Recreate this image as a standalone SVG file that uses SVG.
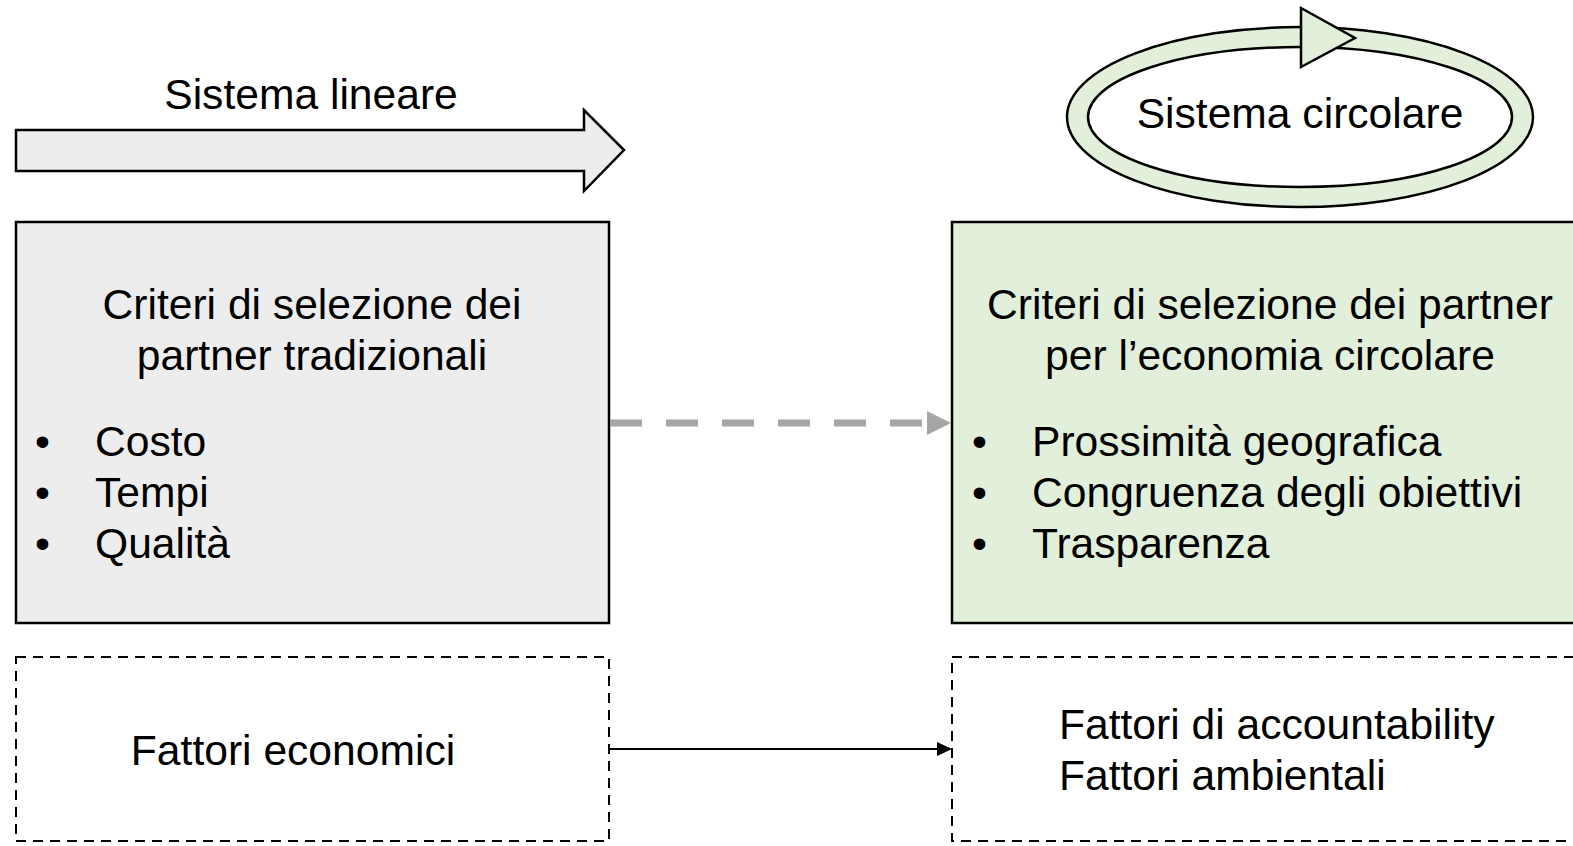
<svg xmlns="http://www.w3.org/2000/svg" width="1573" height="846" viewBox="0 0 1573 846">
<style>
text{font-family:"Liberation Sans",Arial,sans-serif;font-size:42.6px;fill:#000}
.box{stroke:#000;stroke-width:2.5}
.dash{fill:#fff;stroke:#000;stroke-width:2;stroke-dasharray:10 7}
.mid{text-anchor:middle}
</style>
<rect width="1573" height="846" fill="#fff"/>
<g id="linear">
<path d="M16,130 H584 V110 L624,150 L584,191 V171 H16 Z" fill="#ededed" stroke="#000" stroke-width="2.5"/>
<text class="mid" x="311" y="109">Sistema lineare</text>
</g>
<g id="circular">
<path fill-rule="evenodd" fill="#e2efda" stroke="#000" stroke-width="2.5" d="M1067,117 a233,90 0 1,0 466,0 a233,90 0 1,0 -466,0 Z M1088,117 a212,70 0 1,0 424,0 a212,70 0 1,0 -424,0 Z"/>
<path d="M1301,8 L1355,38 L1301,67 Z" fill="#e2efda" stroke="#000" stroke-width="2.5"/>
<text class="mid" x="1300" y="128">Sistema circolare</text>
</g>
<g id="trad">
<rect class="box" x="16" y="222" width="593" height="401" fill="#ededed"/>
<text class="mid" x="312" y="319">Criteri di selezione dei</text>
<text class="mid" x="312" y="370">partner tradizionali</text>
<text x="35" y="456">•</text><text x="95" y="456">Costo</text>
<text x="35" y="507">•</text><text x="95" y="507">Tempi</text>
<text x="35" y="558">•</text><text x="95" y="558">Qualità</text>
</g>
<g id="circ">
<rect class="box" x="952" y="222" width="640" height="401" fill="#e2efda"/>
<text class="mid" x="1270" y="319">Criteri di selezione dei partner</text>
<text class="mid" x="1270" y="370">per l’economia circolare</text>
<text x="972" y="456">•</text><text x="1032" y="456">Prossimità geografica</text>
<text x="972" y="507">•</text><text x="1032" y="507">Congruenza degli obiettivi</text>
<text x="972" y="558">•</text><text x="1032" y="558">Trasparenza</text>
</g>
<g id="econ">
<rect class="dash" x="16" y="657" width="593" height="184"/>
<text class="mid" x="293" y="765">Fattori economici</text>
</g>
<g id="acc">
<rect class="dash" x="952" y="657" width="640" height="184"/>
<text x="1059" y="739">Fattori di accountability</text>
<text x="1059" y="790">Fattori ambientali</text>
</g>
<g id="connectors">
<line x1="610" y1="423" x2="928" y2="423" stroke="#a6a6a6" stroke-width="7" stroke-dasharray="32 24"/>
<path d="M927,411 L951,423 L927,435 Z" fill="#a6a6a6"/>
<line x1="610" y1="749" x2="944" y2="749" stroke="#000" stroke-width="2"/>
<path d="M937,742 L952,749 L937,756 Z" fill="#000"/>
</g>
</svg>
